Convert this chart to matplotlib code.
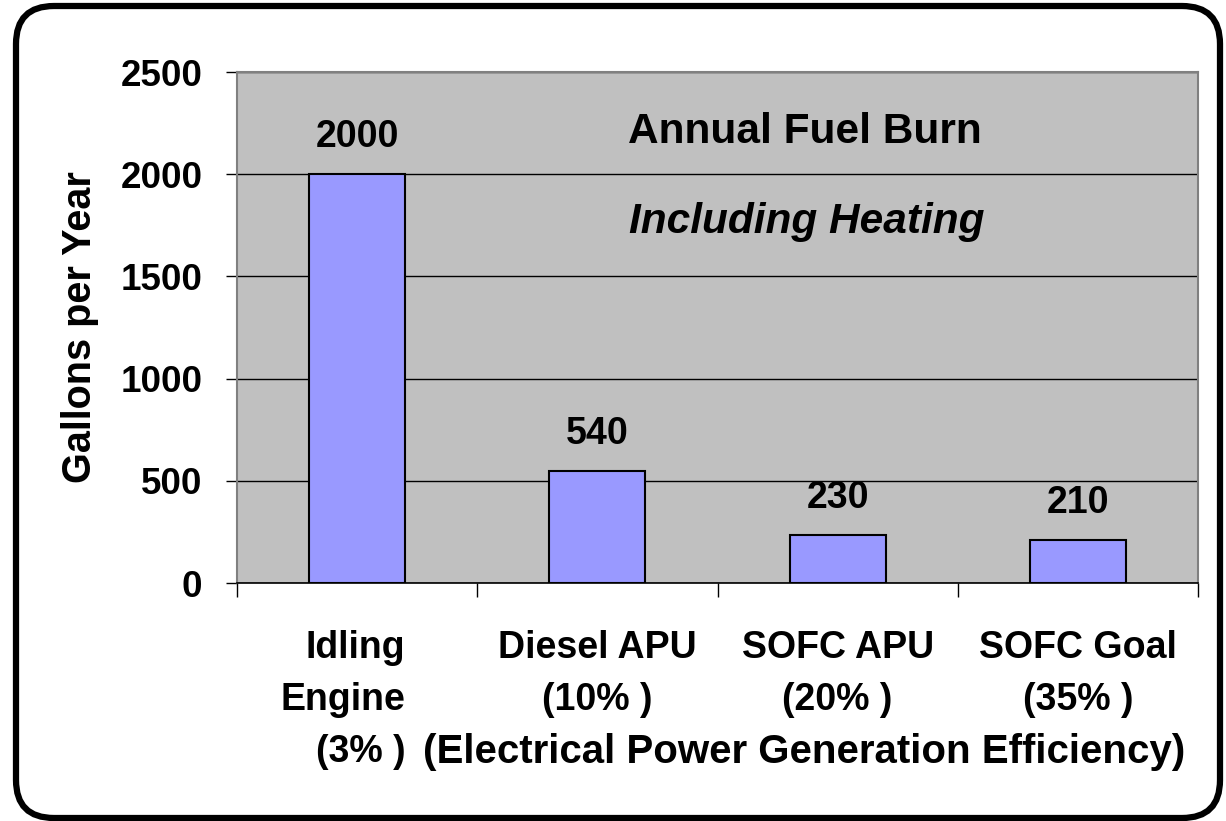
import matplotlib
matplotlib.use("Agg")
import matplotlib.pyplot as plt
from matplotlib.patches import FancyBboxPatch
from matplotlib.transforms import IdentityTransform, blended_transform_factory
import numpy as np

# ---- data ----
categories = ["Idling Engine (3%)", "Diesel APU (10%)", "SOFC APU (20%)", "SOFC Goal (35%)"]
cat_lines = [["Idling", "Engine", "(3% )"],
             ["Diesel APU", "(10% )"],
             ["SOFC APU", "(20% )"],
             ["SOFC Goal", "(35% )"]]
values = [2000, 546, 233, 208]
value_labels = ["2000", "540", "230", "210"]
yticks = [0, 500, 1000, 1500, 2000, 2500]
title1 = "Annual Fuel Burn"
title2 = "Including Heating"
ylabel = "Gallons per Year"
xnote = "(Electrical Power Generation Efficiency)"

plt.rcParams['font.family'] = ['Liberation Sans', 'DejaVu Sans']
plt.rcParams['font.weight'] = 'bold'

W, H = 1226, 821
fig = plt.figure(figsize=(W / 100, H / 100), dpi=100)
fig.patch.set_facecolor('white')

ax = fig.add_axes([237 / W, 1 - 583 / H, (1198 - 237) / W, (583 - 72) / H])
ax.set_facecolor('#C0C0C0')

x = np.arange(len(values)) + 0.5
bw = 0.4
ax.bar(x, values, width=bw, color='#9999FF', edgecolor='black', linewidth=1.5, zorder=3)

ax.set_xlim(0, len(values))
ax.set_ylim(yticks[0], yticks[-1])
ax.set_yticks(yticks)
ax.set_yticklabels([str(t) for t in yticks], fontsize=26.5, fontweight='bold')
ax.yaxis.grid(True, color='black', linewidth=1.0, zorder=1)
ax.set_axisbelow(True)
ax.tick_params(axis='y', direction='out', length=8, width=1, color='black', pad=17)
ax.set_xticks(np.arange(len(values) + 1))
ax.set_xticklabels([])
ax.tick_params(axis='x', direction='out', length=10, width=1, color='black')

for s in ['left', 'top', 'right']:
    ax.spines[s].set_color('#808080')
    ax.spines[s].set_linewidth(1.5)
ax.spines['bottom'].set_color('black')
ax.spines['bottom'].set_linewidth(1.2)

# value labels
for xi, v, lab in zip(x, values, value_labels):
    ax.annotate(lab, (xi, v), xytext=(0, 19.5), textcoords='offset points',
                ha='center', va='baseline', fontsize=27, fontweight='bold', zorder=4)

# titles inside plot
ax.text(0.591, 0.883, title1, transform=ax.transAxes, ha='center', va='center',
        fontsize=30.5, fontweight='bold')
ax.text(0.593, 0.706, title2, transform=ax.transAxes, ha='center', va='center',
        fontsize=30.5, fontweight='bold', style='italic')

# category labels
tr = blended_transform_factory(ax.transData, fig.transFigure)
line_y = [1 - 648 / H, 1 - 700 / H, 1 - 752 / H]
for i, lines in enumerate(cat_lines):
    for j, ln in enumerate(lines):
        if i == 0:
            ax.text(x[i] + bw / 2, line_y[j], ln, transform=tr, ha='right', va='center',
                    fontsize=27, fontweight='bold')
        else:
            ax.text(x[i], line_y[j], ln, transform=tr, ha='center', va='center',
                    fontsize=27, fontweight='bold')
fig.text(804 / W, line_y[2], xnote, ha='center', va='center', fontsize=29, fontweight='bold')

# y label
fig.text(80 / W, 1 - 327 / H, ylabel, rotation=90, ha='center', va='center',
         fontsize=28.5, fontweight='bold')

# rounded frame
frame = FancyBboxPatch((16, 3), 1204, 812, boxstyle="round,pad=0,rounding_size=38",
                       transform=IdentityTransform(), facecolor='none', edgecolor='black',
                       linewidth=4.5, zorder=10)
fig.patches.append(frame)

fig.savefig("out.png", dpi=100)
